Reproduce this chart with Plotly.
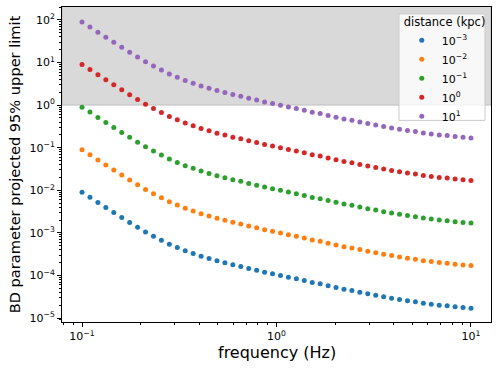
import plotly.graph_objects as go

# frequencies (Hz), 50 log-spaced samples between 0.1 and 10
frequency = [
    0.1, 0.10985, 0.12068, 0.13257, 0.14563, 0.15999, 0.17575, 0.19307, 0.21210, 0.23300,
    0.25595, 0.28118, 0.30888, 0.33932, 0.37276, 0.40949, 0.44984, 0.49417, 0.54287, 0.59636,
    0.65513, 0.71969, 0.79060, 0.86851, 0.95410, 1.04811, 1.15140, 1.26486, 1.38950, 1.52642,
    1.67683, 1.84207, 2.02359, 2.22300, 2.44205, 2.68270, 2.94705, 3.23746, 3.55648, 3.90694,
    4.29193, 4.71487, 5.17947, 5.68987, 6.25055, 6.86649, 7.54312, 8.28643, 9.10298, 10.0,
]

bd_1e_3 = [
    8.97e-3, 6.86e-3, 5.14e-3, 3.93e-3, 3.00e-3, 2.29e-3, 1.75e-3, 1.35e-3, 1.05e-3, 8.32e-4,
    6.70e-4, 5.40e-4, 4.52e-4, 3.78e-4, 3.27e-4, 2.82e-4, 2.49e-4, 2.20e-4, 1.98e-4, 1.77e-4,
    1.62e-4, 1.45e-4, 1.32e-4, 1.19e-4, 1.09e-4, 9.96e-5, 9.08e-5, 8.32e-5, 7.59e-5, 6.81e-5,
    6.35e-5, 5.73e-5, 5.20e-5, 4.74e-5, 4.43e-5, 4.04e-5, 3.70e-5, 3.43e-5, 3.15e-5, 2.92e-5,
    2.72e-5, 2.54e-5, 2.40e-5, 2.22e-5, 2.11e-5, 2.00e-5, 1.93e-5, 1.83e-5, 1.76e-5, 1.70e-5,
]
bd_1e_2 = [
    8.97e-2, 6.86e-2, 5.14e-2, 3.93e-2, 3.00e-2, 2.29e-2, 1.75e-2, 1.35e-2, 1.05e-2, 8.32e-3,
    6.70e-3, 5.40e-3, 4.52e-3, 3.78e-3, 3.27e-3, 2.82e-3, 2.49e-3, 2.20e-3, 1.98e-3, 1.77e-3,
    1.62e-3, 1.45e-3, 1.32e-3, 1.19e-3, 1.09e-3, 9.96e-4, 9.08e-4, 8.32e-4, 7.59e-4, 6.81e-4,
    6.35e-4, 5.73e-4, 5.20e-4, 4.74e-4, 4.43e-4, 4.04e-4, 3.70e-4, 3.43e-4, 3.15e-4, 2.92e-4,
    2.72e-4, 2.54e-4, 2.40e-4, 2.22e-4, 2.11e-4, 2.00e-4, 1.93e-4, 1.83e-4, 1.76e-4, 1.70e-4,
]
bd_1e_1 = [
    8.97e-1, 6.86e-1, 5.14e-1, 3.93e-1, 3.00e-1, 2.29e-1, 1.75e-1, 1.35e-1, 1.05e-1, 8.32e-2,
    6.70e-2, 5.40e-2, 4.52e-2, 3.78e-2, 3.27e-2, 2.82e-2, 2.49e-2, 2.20e-2, 1.98e-2, 1.77e-2,
    1.62e-2, 1.45e-2, 1.32e-2, 1.19e-2, 1.09e-2, 9.96e-3, 9.08e-3, 8.32e-3, 7.59e-3, 6.81e-3,
    6.35e-3, 5.73e-3, 5.20e-3, 4.74e-3, 4.43e-3, 4.04e-3, 3.70e-3, 3.43e-3, 3.15e-3, 2.92e-3,
    2.72e-3, 2.54e-3, 2.40e-3, 2.22e-3, 2.11e-3, 2.00e-3, 1.93e-3, 1.83e-3, 1.76e-3, 1.70e-3,
]
bd_1e0 = [
    8.97, 6.86, 5.14, 3.93, 3.00, 2.29, 1.75, 1.35, 1.05, 8.32e-1,
    6.70e-1, 5.40e-1, 4.52e-1, 3.78e-1, 3.27e-1, 2.82e-1, 2.49e-1, 2.20e-1, 1.98e-1, 1.77e-1,
    1.62e-1, 1.45e-1, 1.32e-1, 1.19e-1, 1.09e-1, 9.96e-2, 9.08e-2, 8.32e-2, 7.59e-2, 6.81e-2,
    6.35e-2, 5.73e-2, 5.20e-2, 4.74e-2, 4.43e-2, 4.04e-2, 3.70e-2, 3.43e-2, 3.15e-2, 2.92e-2,
    2.72e-2, 2.54e-2, 2.40e-2, 2.22e-2, 2.11e-2, 2.00e-2, 1.93e-2, 1.83e-2, 1.76e-2, 1.70e-2,
]
bd_1e1 = [
    89.7, 68.6, 51.4, 39.3, 30.0, 22.9, 17.5, 13.5, 10.5, 8.32,
    6.70, 5.40, 4.52, 3.78, 3.27, 2.82, 2.49, 2.20, 1.98, 1.77,
    1.62, 1.45, 1.32, 1.19, 1.09, 9.96e-1, 9.08e-1, 8.32e-1, 7.59e-1, 6.81e-1,
    6.35e-1, 5.73e-1, 5.20e-1, 4.74e-1, 4.43e-1, 4.04e-1, 3.70e-1, 3.43e-1, 3.15e-1, 2.92e-1,
    2.72e-1, 2.54e-1, 2.40e-1, 2.22e-1, 2.11e-1, 2.00e-1, 1.93e-1, 1.83e-1, 1.76e-1, 1.70e-1,
]

series_names = ["10<sup>−3</sup>", "10<sup>−2</sup>", "10<sup>−1</sup>", "10<sup>0</sup>", "10<sup>1</sup>"]
series_values = [bd_1e_3, bd_1e_2, bd_1e_1, bd_1e0, bd_1e1]
colors = ["#1f77b4", "#ff7f0e", "#2ca02c", "#d62728", "#9467bd"]
upper_limit = 1.0

x_tickvals = [0.1, 1, 10]
x_ticktext = ["10<sup>−1</sup>", "10<sup>0</sup>", "10<sup>1</sup>"]
y_tickvals = [1e-5, 1e-4, 1e-3, 1e-2, 1e-1, 1, 10, 100]
y_ticktext = ["10<sup>−5</sup>", "10<sup>−4</sup>", "10<sup>−3</sup>", "10<sup>−2</sup>",
              "10<sup>−1</sup>", "10<sup>0</sup>", "10<sup>1</sup>", "10<sup>2</sup>"]

FONT = "DejaVu Sans, Arial, sans-serif"

fig = go.Figure()
for name, vals, col in zip(series_names, series_values, colors):
    fig.add_trace(
        go.Scatter(
            x=frequency,
            y=vals,
            name=name,
            mode="markers",
            marker=dict(color=col, size=5, line=dict(width=0)),
        )
    )

# excluded region above the upper limit
fig.add_shape(
    type="rect",
    xref="paper",
    yref="y",
    x0=0,
    x1=1,
    y0=upper_limit,
    y1=1e3,
    fillcolor="rgba(128,128,128,0.3)",
    line=dict(color="rgba(128,128,128,0.35)", width=1),
    layer="below",
)
# legend frame: semi-opaque white box drawn over the points
fig.add_shape(
    type="rect",
    xref="paper",
    yref="paper",
    x0=0.7855,
    x1=0.986,
    y0=0.640,
    y1=0.978,
    fillcolor="rgba(255,255,255,0.8)",
    line=dict(color="#cccccc", width=1),
    layer="above",
)

axis_common = dict(
    type="log",
    automargin=False,
    showgrid=False,
    zeroline=False,
    showline=True,
    mirror=True,
    linecolor="black",
    linewidth=1,
    ticks="outside",
    ticklen=4,
    tickwidth=1,
    tickcolor="black",
    tickmode="array",
    tickfont=dict(family=FONT, size=11, color="black"),
    minor=dict(ticks="outside", ticklen=2, tickcolor="black", dtick="D1", showgrid=False),
)

fig.update_layout(
    width=499,
    height=370,
    paper_bgcolor="white",
    plot_bgcolor="white",
    margin=dict(l=62, r=8, t=7, b=48),
    font=dict(family=FONT, color="black"),
    xaxis=dict(axis_common, range=[-1.103, 1.103], tickvals=x_tickvals, ticktext=x_ticktext),
    yaxis=dict(axis_common, range=[-5.094, 2.305], tickvals=y_tickvals, ticktext=y_ticktext),
    legend=dict(
        title=dict(text="distance (kpc)", font=dict(family=FONT, size=11.5), side="top"),
        font=dict(family=FONT, size=11),
        x=0.792,
        xanchor="left",
        y=0.988,
        yanchor="top",
        bgcolor="rgba(0,0,0,0)",
        borderwidth=0,
        tracegroupgap=0,
        itemwidth=30,
    ),
    showlegend=True,
    annotations=[
        dict(
            text="frequency (Hz)",
            xref="paper",
            yref="paper",
            x=0.5,
            y=-0.098,
            xanchor="center",
            yanchor="middle",
            showarrow=False,
            font=dict(family=FONT, size=16),
        ),
        dict(
            text="BD parameter projected 95% upper limit",
            xref="paper",
            yref="paper",
            x=-0.11,
            y=0.5,
            xanchor="center",
            yanchor="middle",
            textangle=-90,
            showarrow=False,
            font=dict(family=FONT, size=14.6),
        ),
    ],
)

# the page body has a default 8px margin; drop it so the figure fills the window
fig.write_html(
    "out.html",
    config={"displayModeBar": False},
    post_script="document.body.style.margin='0';",
)
